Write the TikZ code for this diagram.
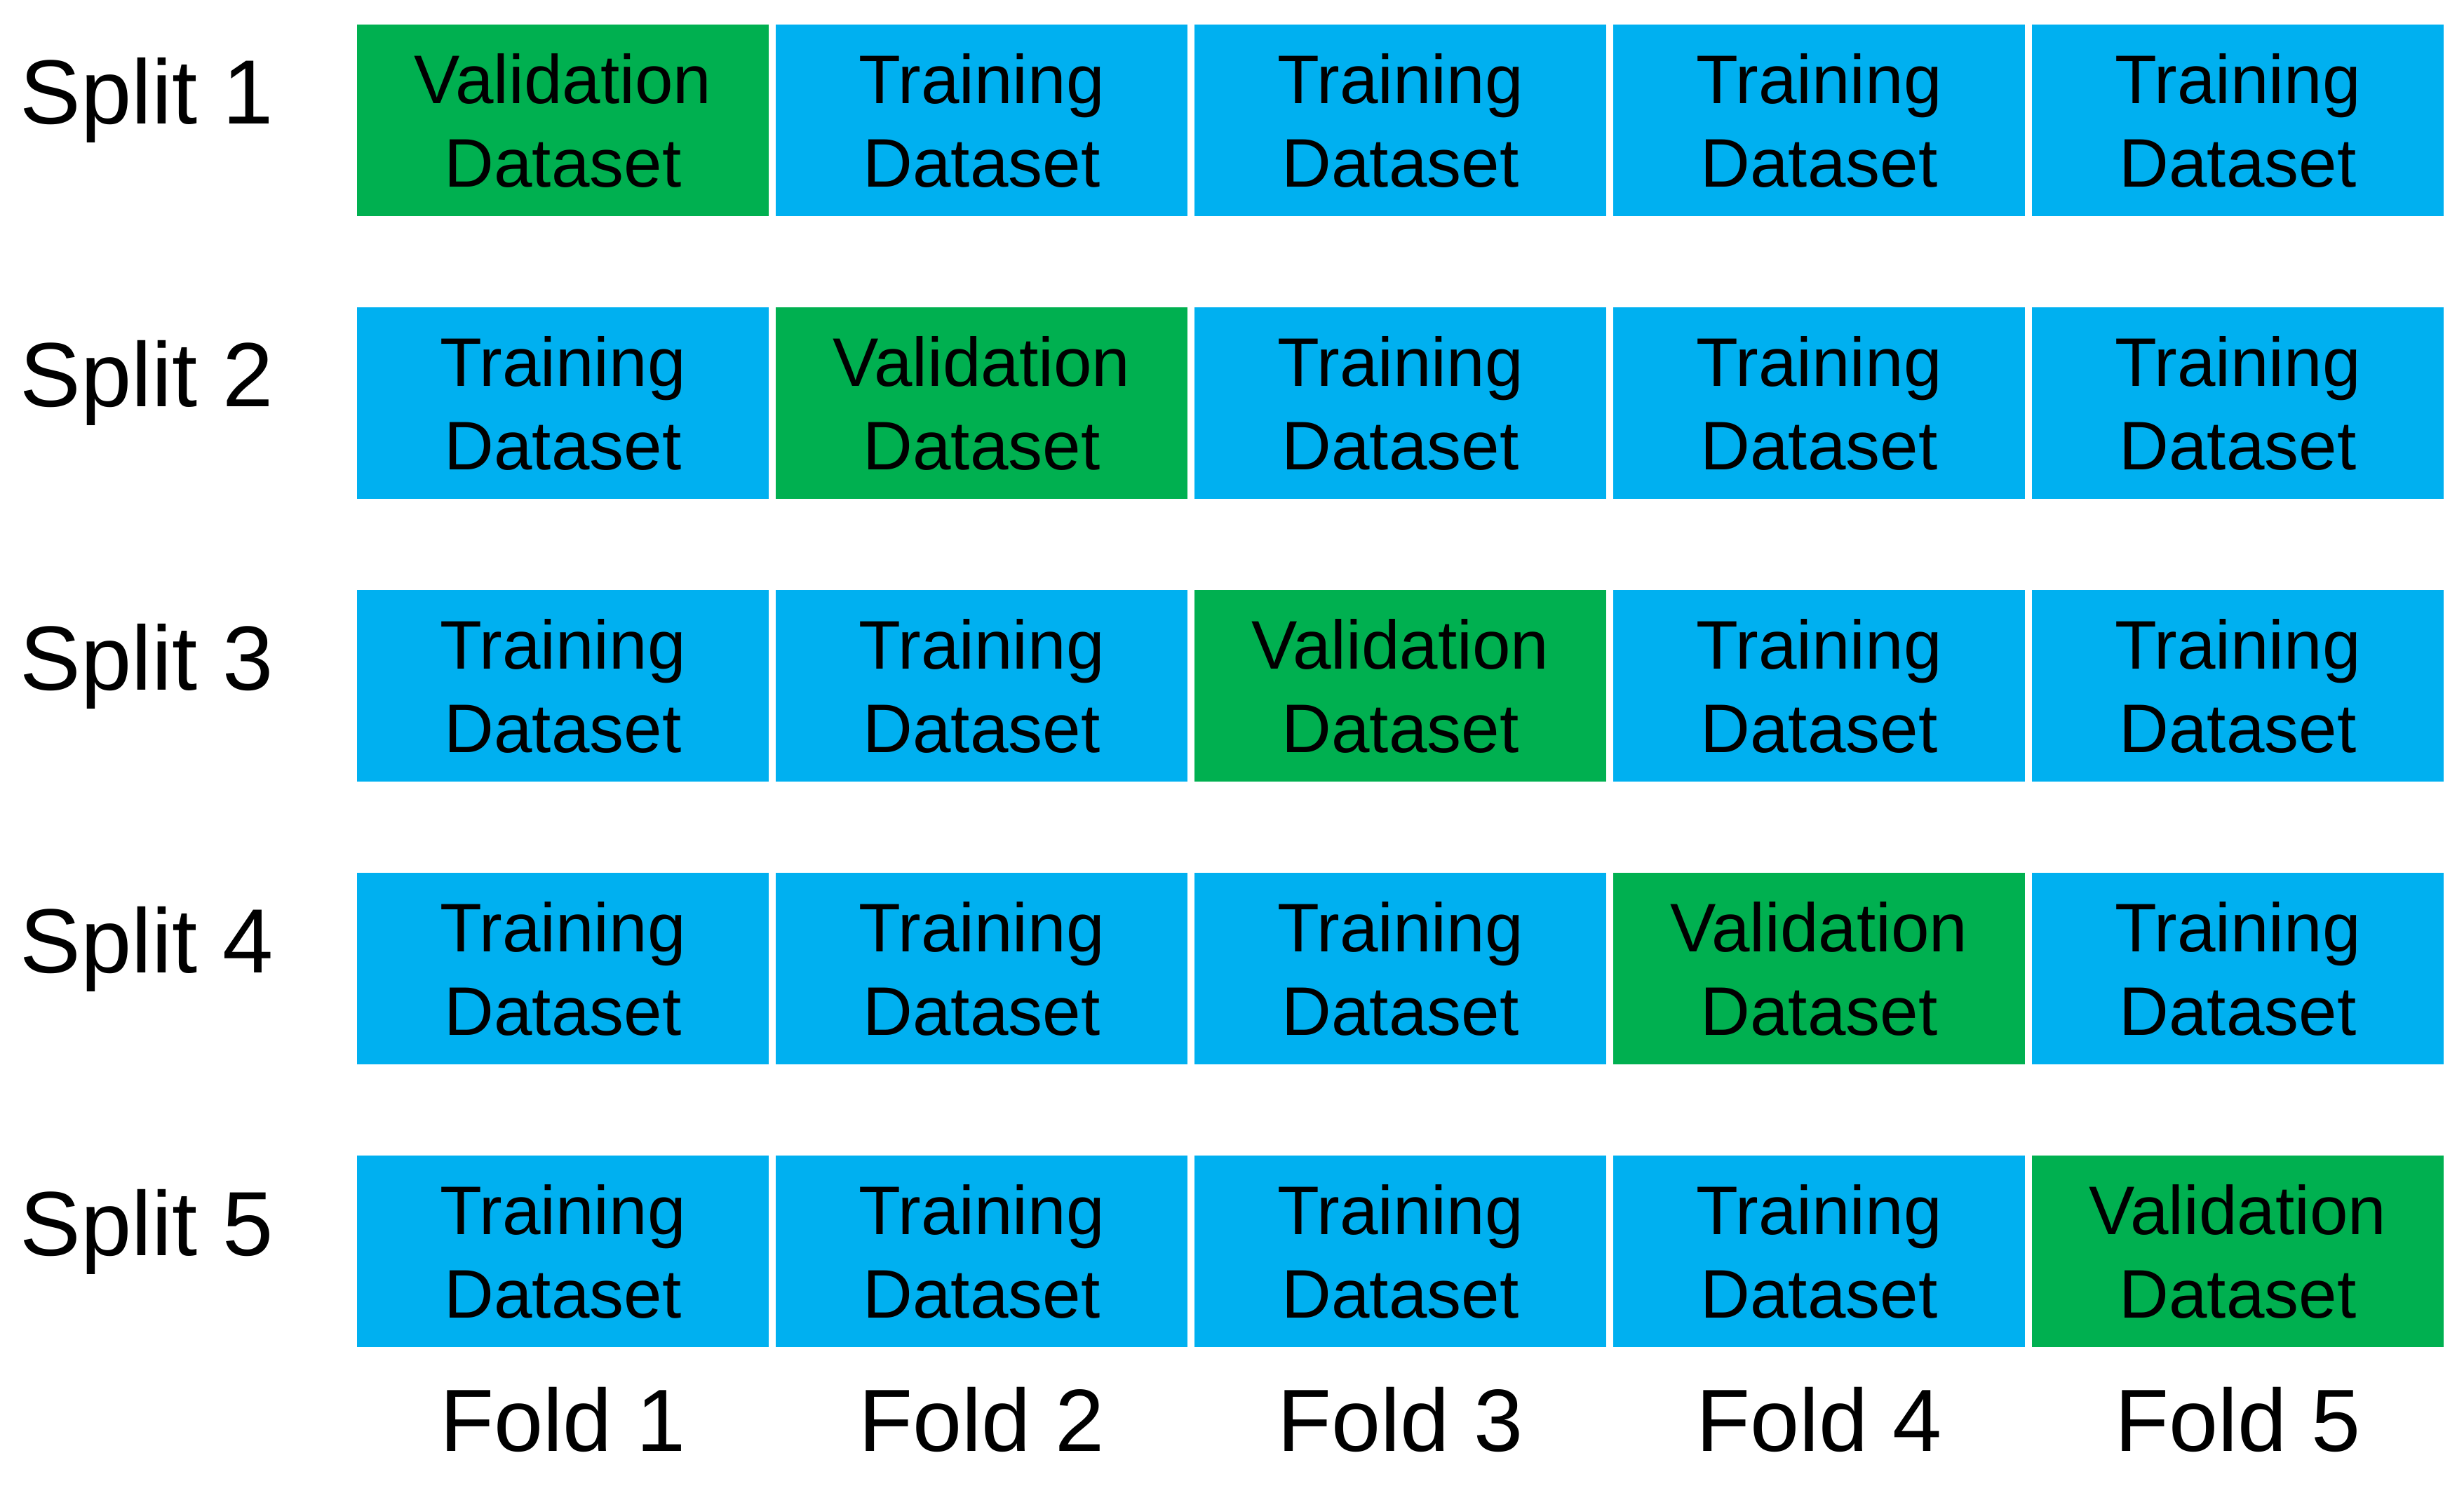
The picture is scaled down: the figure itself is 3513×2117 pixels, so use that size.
\documentclass[tikz,border=0pt]{standalone}
\usepackage{fontspec}
\setmainfont{Liberation Sans}
\definecolor{valgreen}{HTML}{00B050}
\definecolor{trainblue}{HTML}{00B0F0}
\begin{document}
\begin{tikzpicture}[x=0.2pt,y=-0.2pt,
  cell/.style={rectangle, inner sep=0pt, minimum width=117.4pt, minimum height=54.6pt, align=center, font=\fontsize{19.6}{23.8}\selectfont},
  train/.style={cell, fill=trainblue},
  valid/.style={cell, fill=valgreen},
  rowlabel/.style={anchor=base west, inner sep=0pt, font=\fontsize{26}{30}\selectfont},
  collabel/.style={anchor=base, inner sep=0pt, font=\fontsize{25.2}{30}\selectfont}]
\useasboundingbox (0,0) rectangle (3513,2117);
\foreach \r in {1,...,5} {
  \node[rowlabel] (s\r) at (28, {177+403*(\r-1)}) {Split \r};
  \foreach \c in {1,...,5} {
    \ifnum\r=\c
      \node[valid] (b\r-\c) at ({802.5+597*(\c-1)}, {171.5+403*(\r-1)}) {Validation\\Dataset};
    \else
      \node[train] (b\r-\c) at ({802.5+597*(\c-1)}, {171.5+403*(\r-1)}) {Training\\Dataset};
    \fi
  }
}
\foreach \c in {1,...,5} {
  \node[collabel] (f\c) at ({802.5+597*(\c-1)}, 2068) {Fold \c};
}
\end{tikzpicture}
\end{document}
